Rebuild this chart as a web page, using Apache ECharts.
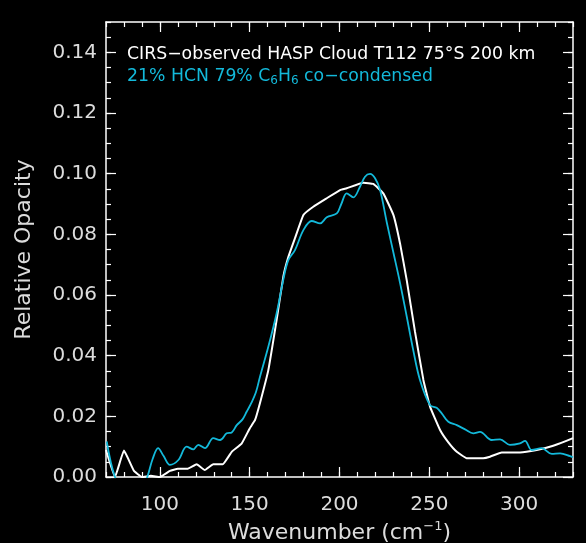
<!DOCTYPE html>
<html>
<head>
<meta charset="utf-8">
<title>HASP Cloud opacity</title>
<script src="https://cdn.jsdelivr.net/npm/echarts@6/dist/echarts.min.js"></script>
<style>
	html,body{margin:0;padding:0;background:#000;}
	#main{width:586px;height:543px;}
</style>
</head>
<body>
<div id="main"></div>
<script>
	// observed spectrum (white)
	var obsX = [70, 75, 80, 85.6, 90, 95, 100, 105.6, 110, 115.5, 120.5, 125, 129.7, 135, 140, 145.5, 150, 153, 155.7, 160.4,
		165, 168.7, 171.5, 175.2, 179.9, 185.4, 192.9, 200.3, 204, 213.3, 218.8, 224.4, 230, 233.7, 237.4, 242, 246.7, 250.4,
		256, 260.5, 265.3, 270.8, 280, 283.8, 290.3, 300.5, 309.8, 319, 330];
	var obsY = [0.0089, 0, 0.0087, 0.002, 0, 0.0004, 0, 0.002, 0.0027, 0.0027, 0.0042, 0.0023, 0.0042, 0.0042, 0.0083, 0.011, 0.016, 0.0188, 0.0243, 0.0353,
		0.0518, 0.066, 0.0725, 0.0787, 0.0864, 0.0891, 0.0919, 0.0946, 0.0952, 0.097, 0.0966, 0.0935, 0.0864, 0.077, 0.065, 0.048, 0.032, 0.0232,
		0.0155, 0.0115, 0.0083, 0.0062, 0.0062, 0.0067, 0.0081, 0.0081, 0.0089, 0.0103, 0.0128];

	// 21% HCN 79% C6H6 model (cyan)
	var modX = [70.4, 75, 80, 85, 90, 93, 96, 99, 102, 105.6, 110.3, 114.9, 118.6, 121.4, 125.1, 129.7, 133.5, 137.2, 140, 142.8,
		146, 148.3, 151, 153.5, 155.7, 160.4, 165, 168.7, 171.5, 175.2, 179.9, 184.5, 189.2, 192.9, 198.5, 201, 204, 207.7, 211.4,
		214.2, 217, 219.8, 222.6, 226.3, 230, 233.7, 237.4, 241, 244.8, 250.4, 254.1, 256.9, 260.6, 265.3, 269.9, 274.5, 278.2,
		284.7, 289.4, 294.9, 300.5, 303.3, 307, 312.6, 318.2, 322.8, 328.4, 330];
	var modY = [0.0117, 0, -0.004, -0.006, -0.004, 0, 0.006, 0.0095, 0.007, 0.004, 0.0056, 0.010, 0.0091, 0.0106, 0.0095, 0.0128, 0.0122, 0.0144, 0.0147, 0.0171,
		0.019, 0.0215, 0.0245, 0.028, 0.033, 0.043, 0.054, 0.065, 0.0715, 0.0748, 0.0814, 0.0844, 0.0836, 0.0856, 0.0869, 0.090, 0.0935, 0.0922, 0.0957,
		0.099, 0.0999, 0.0985, 0.0946, 0.084, 0.074, 0.064, 0.053, 0.042, 0.032, 0.0237, 0.0228, 0.021, 0.0182, 0.0171, 0.0157, 0.0144, 0.0149,
		0.0122, 0.0124, 0.0106, 0.0111, 0.0119, 0.0089, 0.0095, 0.0076, 0.0078, 0.0069, 0.0065];

	var xMajor = [100, 150, 200, 250, 300];
	var yMajor = [0, 0.02, 0.04, 0.06, 0.08, 0.10, 0.12, 0.14];

	function pairs(xs, ys){
		var out = [];
		for(var i=0;i<xs.length;i++){ out.push([xs[i], ys[i]]); }
		return out;
	}

	var FONT = 'DejaVu Sans';
	var AX = '#ffffff';
	var LBL = '#dcdcdc';
	var CYAN = '#13b9da';

	function xAx(pos, showLabel, major){
		return {
			type: 'value', position: pos, min: 70, max: 330, interval: 10,
			splitLine: {show:false},
			axisLine: {show: !major, onZero:false, lineStyle:{color:AX, width:1.5}},
			axisTick: major ? {inside:true, length:10, customValues: xMajor, lineStyle:{color:AX, width:1.2}}
			                : {inside:true, length:5, lineStyle:{color:AX, width:1.2}},
			axisLabel: {show: showLabel, color: LBL, fontFamily: FONT, fontSize: 20, margin: 18,
				formatter: function(v){ return v % 50 === 0 ? String(v) : ''; }}
		};
	}
	function yAx(pos, showLabel, major){
		return {
			type: 'value', position: pos, min: 0, max: 0.15, interval: 0.005,
			splitLine: {show:false},
			axisLine: {show: !major, onZero:false, lineStyle:{color:AX, width:1.5}},
			axisTick: major ? {inside:true, length:10, customValues: yMajor, lineStyle:{color:AX, width:1.2}}
			                : {inside:true, length:5, lineStyle:{color:AX, width:1.2}},
			axisLabel: {show: showLabel, color: LBL, fontFamily: FONT, fontSize: 20, margin: 9,
				formatter: function(v){
					var k = v / 0.02;
					return (Math.abs(k - Math.round(k)) < 1e-6 && v < 0.145) ? v.toFixed(2) : '';
				}}
		};
	}

	var xs = [xAx('bottom', true, false), xAx('bottom', false, true), xAx('top', false, false), xAx('top', false, true)];
	xs[0].name = 'Wavenumber (cm{sup|−1})';
	xs[0].nameLocation = 'middle';
	xs[0].nameGap = 43;
	xs[0].nameTextStyle = {color: LBL, fontFamily: FONT, fontSize: 22, lineHeight: 26,
		rich: {sup: {fontSize: 13, fontFamily: FONT, color: LBL, verticalAlign: 'top', lineHeight: 26, padding: [0,0,9,0]}}};

	var ys = [yAx('left', true, false), yAx('left', false, true), yAx('right', false, false), yAx('right', false, true)];
	ys[0].name = 'Relative Opacity';
	ys[0].nameLocation = 'middle';
	ys[0].nameGap = 71;
	ys[0].nameTextStyle = {color: LBL, fontFamily: FONT, fontSize: 22};

	var myChart = echarts.init(document.getElementById('main'), null, {renderer: 'canvas'});
	var option = {
		backgroundColor: '#000000',
		animation: false,
		grid: {left: 106, right: 13, top: 22, bottom: 66, containLabel: false, outerBoundsMode: 'none'},
		xAxis: xs,
		yAxis: ys,
		graphic: [
			{type: 'text', x: 127, y: 55, style: {text: 'CIRS−observed HASP Cloud T112 75°S 200 km', fill: '#ffffff',
				font: '17.3px "DejaVu Sans"', verticalAlign: 'middle'}},
			{type: 'text', x: 127, y: 77, style: {text: '21% HCN 79% C{sub|6}H{sub|6} co−condensed', fill: CYAN,
				font: '17.3px "DejaVu Sans"', verticalAlign: 'middle',
				rich: {sub: {fontSize: 12, fontFamily: FONT, fill: CYAN, verticalAlign: 'bottom', padding: [8,0,0,0]}}}}
		],
		series: [
			{
				name: 'observed', type: 'line', xAxisIndex: 0, yAxisIndex: 0,
				data: pairs(obsX, obsY), showSymbol: false, smooth: 0.1, clip: true,
				lineStyle: {color: '#ffffff', width: 2}
			},
			{
				name: 'model', type: 'line', xAxisIndex: 0, yAxisIndex: 0,
				data: pairs(modX, modY), showSymbol: false, smooth: 0.35, clip: true,
				lineStyle: {color: CYAN, width: 1.8}
			}
		]
	};
	myChart.setOption(option);
</script>
</body>
</html>
